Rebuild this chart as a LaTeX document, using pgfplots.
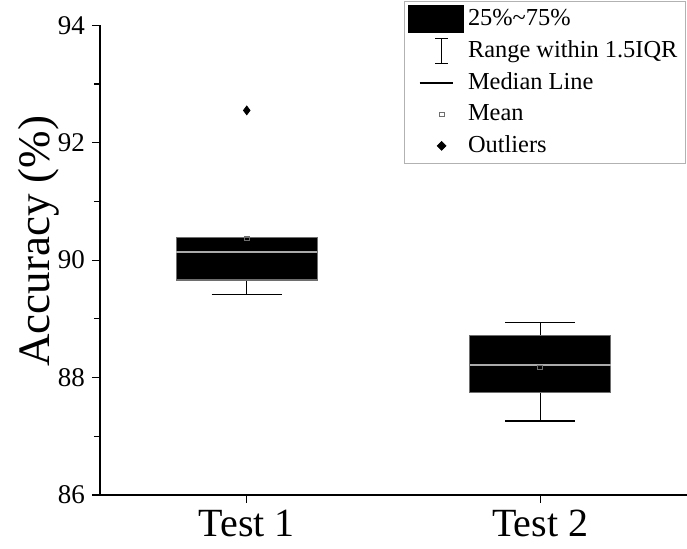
\documentclass[border=0pt]{standalone}
\usepackage{fontspec}
\setmainfont{Liberation Serif}
\usepackage{pgfplots}
\pgfplotsset{compat=1.18}
\usepgfplotslibrary{statistics}
\definecolor{boxedge}{RGB}{110,110,110}
\definecolor{medline}{RGB}{170,170,170}
\begin{document}
\begin{tikzpicture}
\begin{axis}[
  name=ax,
  scale only axis, width=293.5pt, height=234.85pt,
  xmin=0.5, xmax=2.5, ymin=86, ymax=94,
  axis x line*=bottom, axis y line*=left,
  xtick={1,2}, xticklabels={Test 1,Test 2},
  ytick={86,88,90,92,94}, minor ytick={87,89,91,93},
  tick align=outside, major tick length=4pt, minor tick length=3pt,
  tick style={black,line width=0.6pt},
  axis line style={line width=0.6pt},
  /pgf/number format/assume math mode=true,
  yticklabel style={font=\fontsize{13.5}{14}\selectfont},
  xticklabel style={font=\fontsize{20}{22}\selectfont},
  ylabel={Accuracy (\%)},
  ylabel style={font=\fontsize{22.5}{24}\selectfont,at={(rel axis cs:-0.105,0.54)},anchor=center},
  boxplot/draw direction=y,
  legend style={at={(rel axis cs:0.998,1.052)},anchor=north east,draw=gray!60,
    font=\fontsize{12.2}{13}\selectfont,inner xsep=2pt,inner ysep=2pt,row sep=2pt,
    /tikz/every even column/.style={column sep=4pt}},
  legend cell align=left,
]
% legend entries
\addlegendimage{legend image code/.code={\fill[black] (0pt,-6.75pt) rectangle (27.5pt,6.75pt);}}
\addlegendentry{25\%\char"007E 75\%}
\addlegendimage{legend image code/.code={\path[draw=none,fill=none] (0pt,-6.5pt) rectangle (27.5pt,6.5pt);
  \draw[black,line width=0.6pt] (13.3pt,-6.2pt)--(19.7pt,-6.2pt) (16.5pt,-6.2pt)--(16.5pt,6.2pt) (13.3pt,6.2pt)--(19.7pt,6.2pt);}}
\addlegendentry{Range within 1.5IQR}
\addlegendimage{legend image code/.code={\path[draw=none,fill=none] (0pt,-6.5pt) rectangle (27.5pt,6.5pt);
  \draw[black,line width=0.6pt] (5.5pt,0pt)--(22pt,0pt);}}
\addlegendentry{Median Line}
\addlegendimage{legend image code/.code={\path[draw=none,fill=none] (0pt,-6.5pt) rectangle (27.5pt,6.5pt);
  \draw[boxedge,line width=0.5pt] (15.3pt,-1.2pt) rectangle (17.7pt,1.2pt);}}
\addlegendentry{Mean}
\addlegendimage{legend image code/.code={\path[draw=none,fill=none] (0pt,-6.5pt) rectangle (27.5pt,6.5pt);
  \fill[black] (16.5pt,-2.2pt)--(18.7pt,0pt)--(16.5pt,2.2pt)--(14.3pt,0pt)--cycle;}}
\addlegendentry{Outliers}

% Test 1
\addplot[forget plot,black,mark=diamond*,mark size=2.2pt,
  boxplot prepared={draw position=1,lower whisker=89.42,lower quartile=89.66,median=90.14,
    upper quartile=90.39,upper whisker=90.39,box extend=0.48,whisker extend=0.24,
    every box/.style={draw=boxedge,fill=black,line width=0.6pt},
    every median/.style={draw=medline,line width=0.9pt},
    every whisker/.style={draw=black,line width=0.6pt}}]
  table[row sep=\\,y index=0] {data\\ 92.55\\};
% Test 2
\addplot[forget plot,black,mark=diamond*,mark size=2.2pt,
  boxplot prepared={draw position=2,lower whisker=87.26,lower quartile=87.74,median=88.21,
    upper quartile=88.71,upper whisker=88.94,box extend=0.48,whisker extend=0.24,
    every box/.style={draw=boxedge,fill=black,line width=0.6pt},
    every median/.style={draw=medline,line width=0.9pt},
    every whisker/.style={draw=black,line width=0.6pt}}]
  coordinates {};
% means
\addplot[forget plot,only marks,mark=square,mark size=1.2pt,
  mark options={draw=boxedge,fill=none,line width=0.5pt}]
  coordinates {(1,90.37) (2,88.17)};
\end{axis}
\pgfresetboundingbox
\path (ax.south west) ++(-50pt,-27pt);
\path (ax.north east) ++(0pt,12.65pt);
\end{tikzpicture}
\end{document}
